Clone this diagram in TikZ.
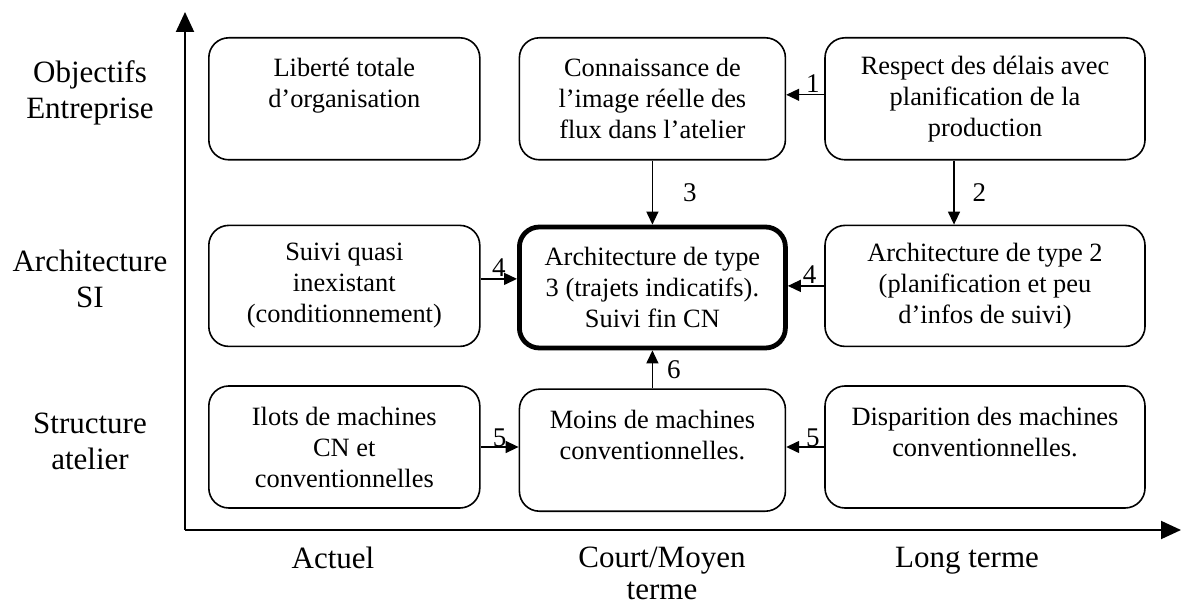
\documentclass[tikz,border=0pt]{standalone}
\usepackage{fontspec}
\setmainfont{Liberation Serif}
\usetikzlibrary{arrows.meta, positioning}

\begin{document}
\begin{tikzpicture}[
    x=0.5pt, y=-0.5pt,
    node distance=32pt and 19pt,
    box/.style={rectangle, rounded corners=10pt, draw, line width=0.8pt, minimum height=61pt, align=center, inner sep=2pt, font=\fontsize{13.2}{15.5}\selectfont},
    mainbox/.style={box, line width=2.4pt},
    lab/.style={align=center, font=\fontsize{15.5}{18}\selectfont},
    collab/.style={lab, anchor=north, font=\fontsize{15.5}{16}\selectfont},
    num/.style={font=\fontsize{13.5}{15}\selectfont, inner sep=1pt},
    arr/.style={-{Triangle[length=6.5pt, width=6pt]}, line width=0.7pt},
    axis/.style={-{Triangle[length=10pt, width=9pt]}, line width=1pt},
]
    \useasboundingbox (0,0) rectangle (1182,608);

    % axes
    \coordinate (o) at (185,530);
    \coordinate (ytop) at (185,12);
    \coordinate (xend) at (1181,530);
    \draw[axis] (o) -- (ytop);
    \draw[axis] (o) -- (xend);

    % row labels
    \node[lab] (objectifs) at (90,93) {Objectifs\\Entreprise};
    \node[lab] (archsi) at (90,279) {Architecture\\SI};
    \node[lab] (structure) at (90,441) {Structure\\atelier};

    % column labels
    \node[collab] (actuel) at (333,540) {Actuel};
    \node[collab] (court) at (662,540) {Court/Moyen\\terme};
    \node[collab] (long) at (967,540) {Long terme};

    % Objectifs row
    \node[box, minimum width=135.5pt, anchor=north west] (liberte) at (208,37) {Libert\'e totale\\d'organisation\\~};
    \node[box, minimum width=133pt, right=19pt of liberte] (conn) {Connaissance de\\l'image r\'eelle des\\flux dans l'atelier};
    \node[box, minimum width=160pt, right=19pt of conn] (respect) {Respect des d\'elais avec\\planification de la\\production};

    % Architecture row
    \node[box, minimum height=60.5pt, minimum width=135.5pt, below=32pt of liberte] (suivi) {Suivi quasi\\inexistant\\(conditionnement)};
    \node[mainbox, minimum height=60.5pt, minimum width=133pt, below=32pt of conn] (arch3) {Architecture de type\\3 (trajets indicatifs).\\Suivi fin CN};
    \node[box, minimum height=60.5pt, minimum width=160pt, below=32pt of respect] (arch2) {Architecture de type 2\\(planification et peu\\d'infos de suivi)};

    % Structure row
    \node[box, minimum width=135.5pt, below=19pt of suivi] (ilots) {Ilots de machines\\CN et\\conventionnelles};
    \node[box, minimum width=133pt, below=19pt of arch3] (moins) {Moins de machines\\conventionnelles.\\~};
    \node[box, minimum width=160pt, below=19pt of arch2] (dispar) {Disparition des machines\\conventionnelles.\\~};

    \draw[arr] ([yshift=2pt]respect.west) -- node[num, above, pos=0.3] {1} ([yshift=2pt]respect.west -| conn.east);
    \draw[arr] ([xshift=-15.5pt]respect.south) -- node[num, right=8pt] {2} ([xshift=-15.5pt]arch2.north);
    \draw[arr] (conn.south) -- node[num, right=14pt] {3} (arch3.north);
    \draw[arr] ([yshift=3.5pt]suivi.east) -- node[num, above] {4} ([yshift=3.5pt]suivi.east -| arch3.west);
    \draw[arr] (arch2.west) -- node[num, above, pos=0.4] {4} (arch2.west -| arch3.east);
    \draw[arr] (ilots.east) -- node[num, above, inner sep=0pt] {5} (ilots.east -| moins.west);
    \draw[arr] (dispar.west) -- node[num, above, inner sep=0pt, pos=0.3] {5} (dispar.west -| moins.east);
    \draw[arr] (moins.north) -- node[num, right=6pt] {6} (arch3.south);
\end{tikzpicture}
\end{document}
